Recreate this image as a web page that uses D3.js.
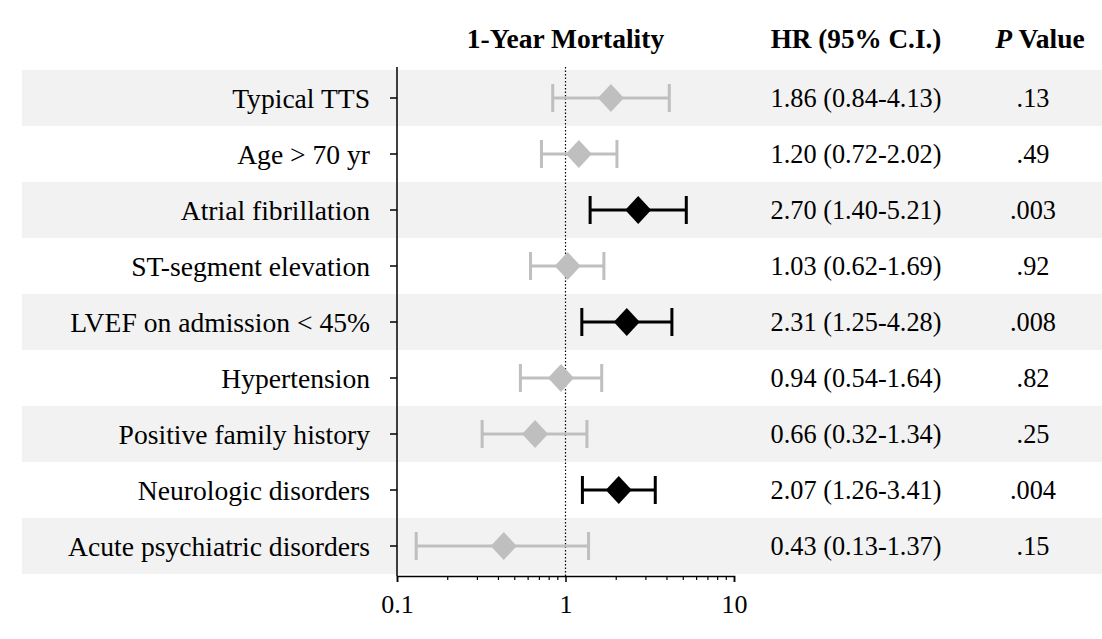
<!DOCTYPE html>
<html>
<head>
<meta charset="utf-8">
<script src="https://cdn.jsdelivr.net/npm/d3@7"></script>
<style>
  body { margin: 0; background: #fff; }
  svg text { font-family: "Liberation Serif", "Times New Roman", serif; }
</style>
</head>
<body>
<div id="chart"></div>
<script>
// rows of the forest plot
var labels = ["Typical TTS", "Age > 70 yr", "Atrial fibrillation", "ST-segment elevation",
  "LVEF on admission < 45%", "Hypertension", "Positive family history",
  "Neurologic disorders", "Acute psychiatric disorders"];
var hr    = [1.86, 1.20, 2.70, 1.03, 2.31, 0.94, 0.66, 2.07, 0.43];
var lower = [0.84, 0.72, 1.40, 0.62, 1.25, 0.54, 0.32, 1.26, 0.13];
var upper = [4.13, 2.02, 5.21, 1.69, 4.28, 1.64, 1.34, 3.41, 1.37];
var hrText = ["1.86 (0.84-4.13)", "1.20 (0.72-2.02)", "2.70 (1.40-5.21)", "1.03 (0.62-1.69)",
  "2.31 (1.25-4.28)", "0.94 (0.54-1.64)", "0.66 (0.32-1.34)", "2.07 (1.26-3.41)", "0.43 (0.13-1.37)"];
var pText = [".13", ".49", ".003", ".92", ".008", ".82", ".25", ".004", ".15"];
var pVal  = [0.13, 0.49, 0.003, 0.92, 0.008, 0.82, 0.25, 0.004, 0.15];
var axisTicks = [0.1, 1, 10];

var width = 1102, height = 639;
var fs = 26.3;

var svg = d3.select("#chart").append("svg")
  .attr("width", width)
  .attr("height", height);

var x = d3.scaleLog().domain([0.1, 10]).range([397, 734]);
var y = d3.scaleBand().domain(d3.range(labels.length)).range([70, 574]);

var rows = labels.map(function(d, i) {
  return {label: d, hr: hr[i], lo: lower[i], hi: upper[i], txt: hrText[i], p: pText[i], sig: pVal[i] < 0.05};
});

// alternating bands
svg.selectAll("rect.band")
  .data(rows.filter(function(d, i) { return i % 2 === 0; }))
  .enter().append("rect")
  .attr("class", "band")
  .attr("x", 22)
  .attr("y", function(d) { return y(labels.indexOf(d.label)); })
  .attr("width", width - 22)
  .attr("height", y.bandwidth())
  .attr("fill", "#f2f2f2");

// headers
svg.append("text").attr("x", x(1)).attr("y", 48)
  .attr("text-anchor", "middle").attr("font-size", 27.5).attr("font-weight", "bold")
  .text("1-Year Mortality");
svg.append("text").attr("x", 856).attr("y", 48)
  .attr("text-anchor", "middle").attr("font-size", 27.2).attr("font-weight", "bold")
  .text("HR (95% C.I.)");
var ph = svg.append("text").attr("x", 1040).attr("y", 48)
  .attr("text-anchor", "middle").attr("font-size", 27.5).attr("font-weight", "bold");
ph.append("tspan").attr("font-style", "italic").text("P");
ph.append("tspan").text(" Value");

// x axis
var xAxis = d3.axisBottom(x)
  .tickValues(axisTicks)
  .tickFormat(function(d) { return d3.format("")(d); })
  .tickSize(6);
var gx = svg.append("g").attr("transform", "translate(0,576)").call(xAxis);
gx.select(".domain").attr("stroke", "#000").attr("stroke-width", 1.5);
gx.selectAll(".tick line").attr("stroke", "#000").attr("stroke-width", 1.5);
gx.selectAll(".tick text").attr("font-size", 26).attr("font-family", "Liberation Serif")
  .attr("y", 19).attr("fill", "#000");

// minor ticks
var minor = [];
[0.1, 1].forEach(function(b) { for (var k = 2; k <= 9; k++) minor.push(b * k); });
gx.selectAll("line.minor").data(minor).enter().append("line")
  .attr("class", "minor")
  .attr("x1", function(d) { return x(d); }).attr("x2", function(d) { return x(d); })
  .attr("y1", 0).attr("y2", 4)
  .attr("stroke", "#000").attr("stroke-width", 1.2);

// y axis
var yAxis = d3.axisLeft(y).tickFormat("").tickSize(7).tickSizeOuter(0);
var gy = svg.append("g").attr("transform", "translate(397,0)").call(yAxis);
gy.select(".domain").attr("stroke", "#000").attr("stroke-width", 1.5)
  .attr("d", "M0,67V576");
gy.selectAll(".tick line").attr("stroke", "#000").attr("stroke-width", 1.5);

// reference line at HR = 1
svg.append("line")
  .attr("x1", x(1)).attr("x2", x(1)).attr("y1", 67).attr("y2", 576)
  .attr("stroke", "#000").attr("stroke-width", 1.2).attr("stroke-dasharray", "1.5,2");

// row labels
svg.selectAll("text.lab").data(rows).enter().append("text")
  .attr("class", "lab")
  .attr("x", 370)
  .attr("y", function(d, i) { return y(i) + y.bandwidth() / 2; })
  .attr("dy", "0.35em")
  .attr("text-anchor", "end").attr("font-size", 27.6)
  .text(function(d) { return d.label; });

// CI whiskers
var g = svg.selectAll("g.row").data(rows).enter().append("g")
  .attr("class", "row")
  .attr("transform", function(d, i) { return "translate(0," + (y(i) + y.bandwidth() / 2) + ")"; });

function col(d) { return d.sig ? "#000" : "#bfbfbf"; }

g.append("line")
  .attr("x1", function(d) { return x(d.lo); }).attr("x2", function(d) { return x(d.hi); })
  .attr("stroke", col).attr("stroke-width", 3);
g.append("line")
  .attr("x1", function(d) { return x(d.lo); }).attr("x2", function(d) { return x(d.lo); })
  .attr("y1", -14).attr("y2", 14)
  .attr("stroke", col).attr("stroke-width", 3);
g.append("line")
  .attr("x1", function(d) { return x(d.hi); }).attr("x2", function(d) { return x(d.hi); })
  .attr("y1", -14).attr("y2", 14)
  .attr("stroke", col).attr("stroke-width", 3);
g.append("path")
  .attr("d", function(d) {
    var cx = x(d.hr);
    return "M" + (cx - 13) + ",0L" + cx + ",-14L" + (cx + 13) + ",0L" + cx + ",14Z";
  })
  .attr("fill", col);

// HR text and p values
g.append("text")
  .attr("x", 856).attr("dy", "0.35em")
  .attr("text-anchor", "middle").attr("font-size", fs)
  .text(function(d) { return d.txt; });
g.append("text")
  .attr("x", 1033).attr("dy", "0.35em")
  .attr("text-anchor", "middle").attr("font-size", fs)
  .text(function(d) { return d.p; });
</script>
</body>
</html>
